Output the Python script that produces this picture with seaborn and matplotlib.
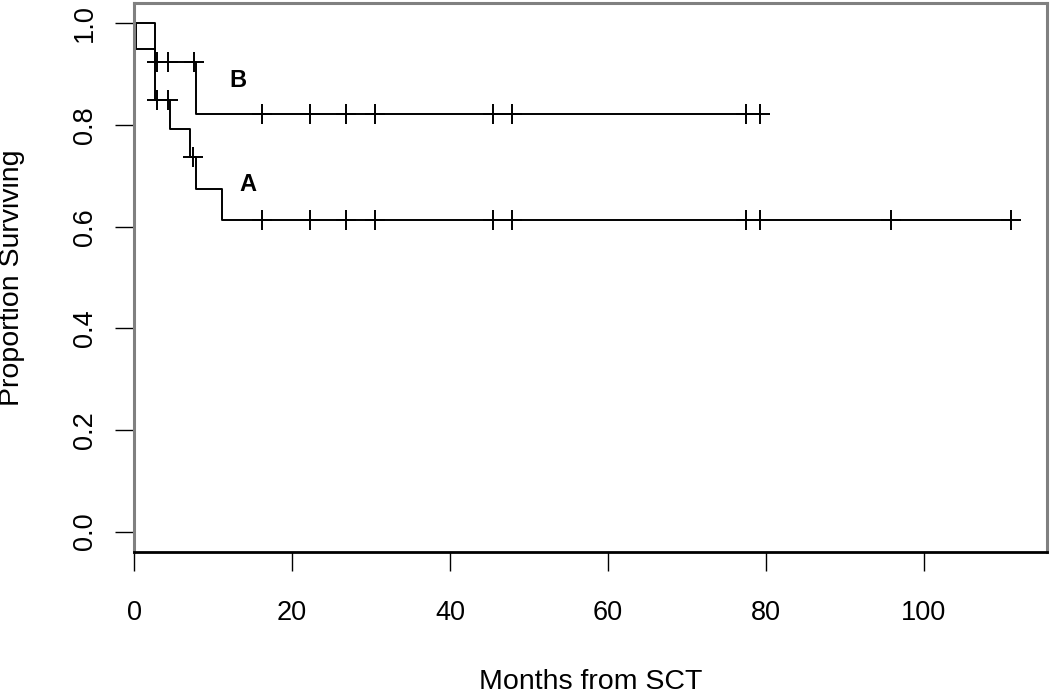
import numpy as np
import pandas as pd
import matplotlib
matplotlib.use("Agg")
import matplotlib.pyplot as plt
import seaborn as sns

# step curves (months, proportion surviving)
a_times = [0, 0.3, 2.7, 4.55, 7.15, 7.85, 11.1, 111.0]
a_surv = [1.0, 0.95, 0.85, 0.793, 0.737, 0.675, 0.614, 0.614]
b_times = [0, 2.66, 7.9, 79.2]
b_surv = [1.0, 0.923, 0.821, 0.821]

# censored observations (+ marks)
a_cens = [2.95, 4.3, 7.5, 16.2, 22.3, 26.8, 30.5, 45.5, 47.8, 77.5, 79.2, 95.8, 111.0]
b_cens = [2.85, 4.3, 7.6, 16.2, 22.3, 26.8, 30.5, 45.5, 47.8, 77.5, 79.2]

x_ticks = [0, 20, 40, 60, 80, 100]
y_ticks = [0.0, 0.2, 0.4, 0.6, 0.8, 1.0]


def level_at(times, surv, t):
    i = np.searchsorted(times, t, side="right") - 1
    return surv[i]


curves = pd.concat([
    pd.DataFrame({"month": a_times, "surv": a_surv, "group": "A"}),
    pd.DataFrame({"month": b_times, "surv": b_surv, "group": "B"}),
])
cens = pd.concat([
    pd.DataFrame({"month": a_cens, "surv": [level_at(a_times, a_surv, t) for t in a_cens], "group": "A"}),
    pd.DataFrame({"month": b_cens, "surv": [level_at(b_times, b_surv, t) for t in b_cens], "group": "B"}),
])

sns.set_style("white")
plt.rcParams["font.family"] = ["Liberation Sans", "DejaVu Sans"]
plt.rcParams["text.color"] = "black"
plt.rcParams["axes.labelcolor"] = "black"

fig = plt.figure(figsize=(10.5, 6.96), dpi=100)
ax = fig.add_axes([134 / 1050, 1 - 552 / 696, (1047 - 134) / 1050, (552 - 3) / 696])

sns.lineplot(data=curves, x="month", y="surv", hue="group", palette=["black", "black"],
             drawstyle="steps-post", estimator=None, sort=False, linewidth=1.4,
             legend=False, ax=ax)
sns.scatterplot(data=cens, x="month", y="surv", marker="+", s=225, color="black",
                linewidth=1.4, legend=False, ax=ax, zorder=3)

ax.text(13.2, 0.888, "B", fontsize=17, fontweight="bold", ha="center", va="center", color="black")
ax.text(14.4, 0.682, "A", fontsize=17, fontweight="bold", ha="center", va="center", color="black")

ax.set_xlim(0, 115.6)
ax.set_ylim(-0.04, 1.04)
ax.set_xticks(x_ticks)
ax.set_yticks(y_ticks)
ax.set_xticklabels([str(t) for t in x_ticks])
ax.set_yticklabels([f"{t:.1f}" for t in y_ticks], rotation=90, va="center")
ax.tick_params(axis="x", direction="out", length=13.7, width=1, labelsize=19.5, pad=21, colors="black")
ax.tick_params(axis="y", direction="out", length=13.7, width=1, labelsize=19.5, pad=12, colors="black")
ax.tick_params(bottom=True, left=True)

ax.set_xlabel("Months from SCT", fontsize=20.5, labelpad=31)
ax.set_ylabel("Proportion Surviving", fontsize=20.5, labelpad=34)

for side in ["top", "right", "left"]:
    ax.spines[side].set_color("#808080")
    ax.spines[side].set_linewidth(2.2)
ax.spines["bottom"].set_color("black")
ax.spines["bottom"].set_linewidth(2)

fig.savefig("out.png", dpi=100)
